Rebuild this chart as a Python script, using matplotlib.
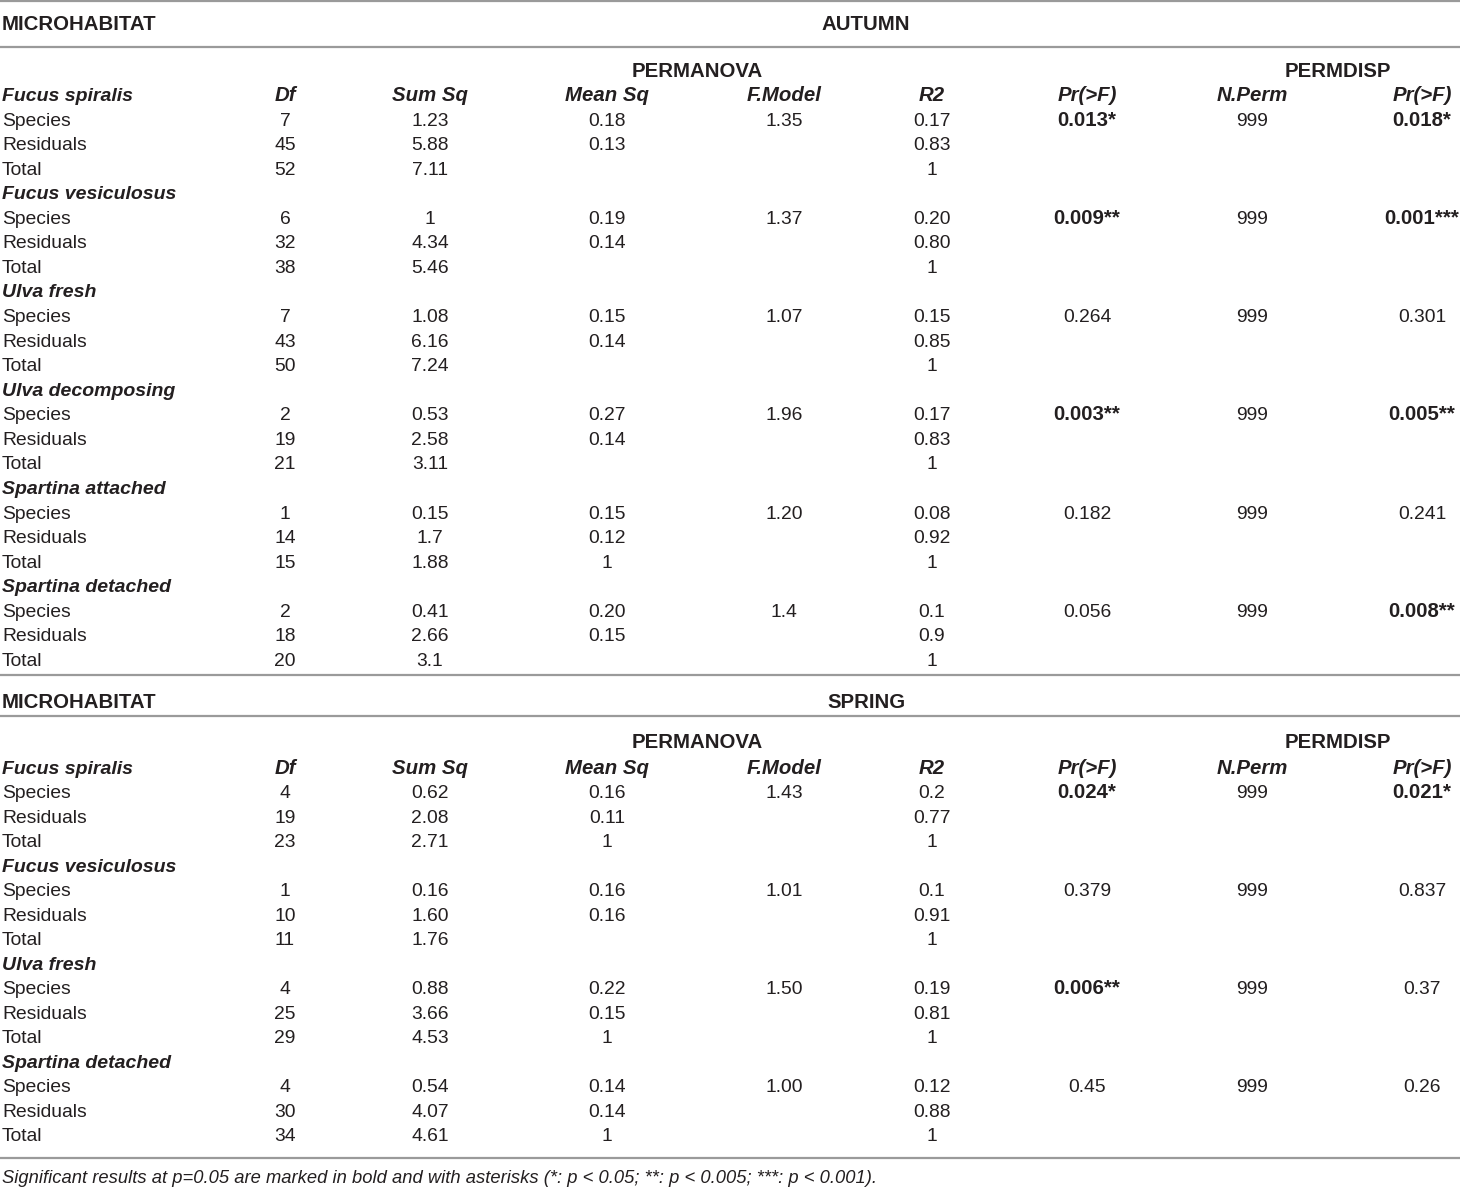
import matplotlib.pyplot as plt

# ---- table data ----
col_names = ["Df", "Sum Sq", "Mean Sq", "F.Model", "R2", "Pr(>F)", "N.Perm", "Pr(>F)"]
row_terms = ["Species", "Residuals", "Total"]

autumn_groups = ["Fucus spiralis", "Fucus vesiculosus", "Ulva fresh",
                 "Ulva decomposing", "Spartina attached", "Spartina detached"]
autumn_df = [[7, 45, 52], [6, 32, 38], [7, 43, 50], [2, 19, 21], [1, 14, 15], [2, 18, 20]]
autumn_sumsq = [["1.23", "5.88", "7.11"], ["1", "4.34", "5.46"], ["1.08", "6.16", "7.24"],
                ["0.53", "2.58", "3.11"], ["0.15", "1.7", "1.88"], ["0.41", "2.66", "3.1"]]
autumn_meansq = [["0.18", "0.13", ""], ["0.19", "0.14", ""], ["0.15", "0.14", ""],
                 ["0.27", "0.14", ""], ["0.15", "0.12", "1"], ["0.20", "0.15", ""]]
autumn_fmodel = ["1.35", "1.37", "1.07", "1.96", "1.20", "1.4"]
autumn_r2 = [["0.17", "0.83", "1"], ["0.20", "0.80", "1"], ["0.15", "0.85", "1"],
             ["0.17", "0.83", "1"], ["0.08", "0.92", "1"], ["0.1", "0.9", "1"]]
autumn_p_anova = ["0.013*", "0.009**", "0.264", "0.003**", "0.182", "0.056"]
autumn_nperm = ["999"] * 6
autumn_p_disp = ["0.018*", "0.001***", "0.301", "0.005**", "0.241", "0.008**"]

spring_groups = ["Fucus spiralis", "Fucus vesiculosus", "Ulva fresh", "Spartina detached"]
spring_df = [[4, 19, 23], [1, 10, 11], [4, 25, 29], [4, 30, 34]]
spring_sumsq = [["0.62", "2.08", "2.71"], ["0.16", "1.60", "1.76"],
                ["0.88", "3.66", "4.53"], ["0.54", "4.07", "4.61"]]
spring_meansq = [["0.16", "0.11", "1"], ["0.16", "0.16", ""],
                 ["0.22", "0.15", "1"], ["0.14", "0.14", "1"]]
spring_fmodel = ["1.43", "1.01", "1.50", "1.00"]
spring_r2 = [["0.2", "0.77", "1"], ["0.1", "0.91", "1"],
             ["0.19", "0.81", "1"], ["0.12", "0.88", "1"]]
spring_p_anova = ["0.024*", "0.379", "0.006**", "0.45"]
spring_nperm = ["999"] * 4
spring_p_disp = ["0.021*", "0.837", "0.37", "0.26"]

footnote = ("Significant results at p=0.05 are marked in bold and with asterisks "
            "(*: p < 0.05; **: p < 0.005; ***: p < 0.001).")

# ---- layout (pixel coordinates, text placed on its baseline) ----
W, H = 1460, 1189
col_x = [285, 430, 607, 784, 932, 1087, 1252, 1422]
fs = 13.9
fs_head = 14.7
fs_group = 14.0
txt = "#231f20"
line_c = "#9a9a9a"

plt.rcParams['font.family'] = ['Liberation Sans', 'DejaVu Sans']

fig = plt.figure(figsize=(W / 100, H / 100), dpi=100)
ax = fig.add_axes([0, 0, 1, 1])
ax.set_xlim(0, W)
ax.set_ylim(H, 0)
ax.axis('off')


def hline(y):
    ax.plot([0, W], [y, y], color=line_c, lw=1.6, solid_capstyle='butt')


def cell(x, y, s, bold=False, italic=False, ha='center', size=None):
    ax.text(x, y, s, ha=ha, va='baseline', fontsize=size or fs, color=txt,
            fontweight='bold' if bold else 'normal',
            fontstyle='italic' if italic else 'normal')


def pval(x, y, s):
    sig = '*' in s
    cell(x, y, s, bold=sig, size=fs_head if sig else fs)


def draw_section(y_title, y_line, y_sub, y_head, row_h, season, groups, df,
                 sumsq, meansq, fmodel, r2, p1, nperm, p2):
    cell(2, y_title, "MICROHABITAT", bold=True, ha='left', size=fs_head)
    cell(866, y_title, season, bold=True, size=fs_head)
    hline(y_line)
    cell(697, y_sub, "PERMANOVA", bold=True, size=fs_head)
    cell(1338, y_sub, "PERMDISP", bold=True, size=fs_head)
    y = y_head
    for gi, g in enumerate(groups):
        cell(2, y, g, bold=True, italic=True, ha='left', size=fs_group)
        if gi == 0:
            for x, c in zip(col_x, col_names):
                cell(x, y, c, bold=True, italic=True, size=fs_head)
        y += row_h
        for ri, term in enumerate(row_terms):
            cell(2, y, term, ha='left')
            cell(col_x[0], y, str(df[gi][ri]))
            cell(col_x[1], y, sumsq[gi][ri])
            cell(col_x[2], y, meansq[gi][ri])
            cell(col_x[4], y, r2[gi][ri])
            if ri == 0:
                cell(col_x[3], y, fmodel[gi])
                pval(col_x[5], y, p1[gi])
                cell(col_x[6], y, nperm[gi])
                pval(col_x[7], y, p2[gi])
            y += row_h
    return y


hline(1)
draw_section(30, 47, 77, 101, 24.56, "AUTUMN", autumn_groups, autumn_df,
             autumn_sumsq, autumn_meansq, autumn_fmodel, autumn_r2,
             autumn_p_anova, autumn_nperm, autumn_p_disp)
hline(675)
draw_section(708, 716, 748, 773.5, 24.53, "SPRING", spring_groups, spring_df,
             spring_sumsq, spring_meansq, spring_fmodel, spring_r2,
             spring_p_anova, spring_nperm, spring_p_disp)
hline(1158)
ax.text(2, 1183, footnote, ha='left', va='baseline', fontsize=13.2,
        color=txt, fontstyle='italic')

fig.savefig("out.png", dpi=100)
